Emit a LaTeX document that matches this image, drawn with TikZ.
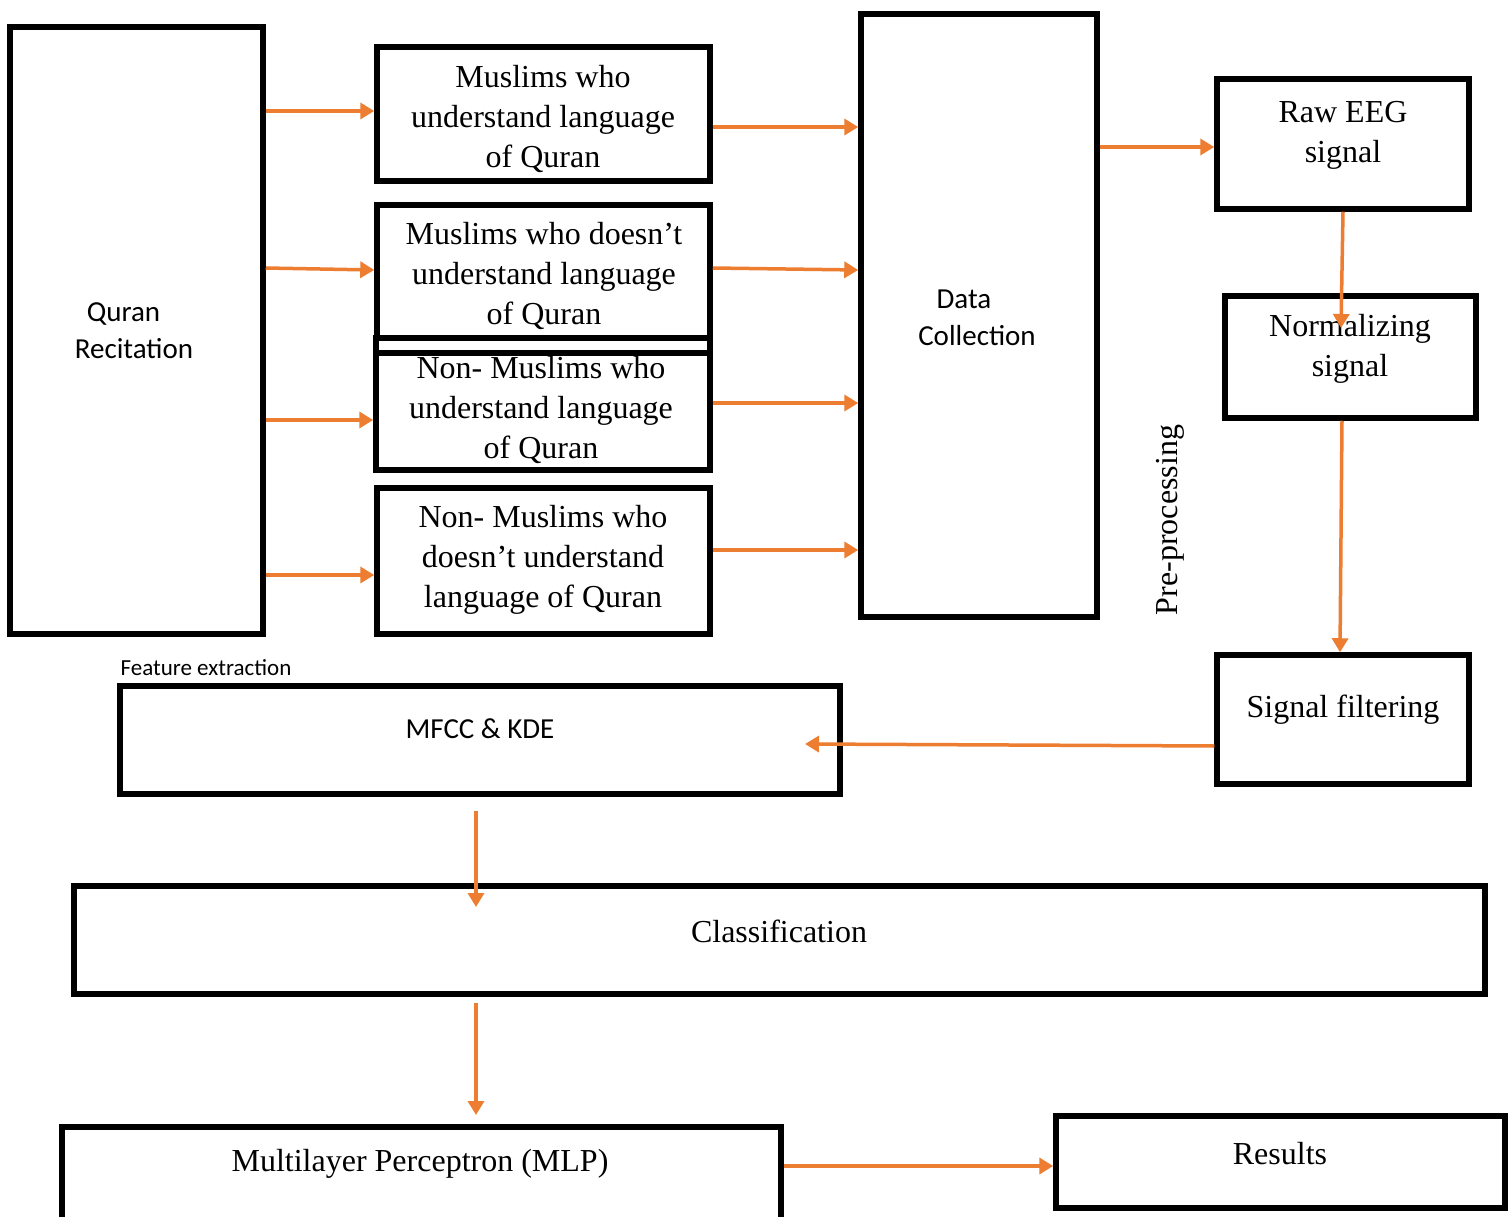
\documentclass[tikz,border=0pt]{standalone}
\usepackage{fontspec}
\setmainfont{Liberation Serif}
\newfontfamily\sansf{Carlito}
\usetikzlibrary{arrows.meta}
\definecolor{arr}{HTML}{ED7D31}
\tikzset{
  box/.style={draw=black, line width=5.5pt, rectangle, inner sep=0pt},
  ser/.style={font=\fontsize{32}{40}\selectfont, align=center, inner sep=0pt},
  sans/.style={font=\sansf\fontsize{29}{37}\selectfont, align=center, inner sep=0pt},
  con/.style={draw=arr, line width=3.5pt, -{Triangle[length=14pt,width=16pt]}}
}
\begin{document}
\begin{tikzpicture}[x=1pt,y=-1pt]
\clip (0,0) rectangle (1508,1217);
\fill[white] (0,0) rectangle (1508,1217);
% boxes
\node[box, minimum width=253pt, minimum height=607pt] (Q) at (136.5,330.5) {};
\node[box, minimum width=333pt, minimum height=134pt] (A) at (543.5,114) {};
\node[box, minimum width=333pt, minimum height=133pt] (B) at (543.5,271.5) {};
\node[box, minimum width=334pt, minimum height=132pt] (C) at (543,404) {};
\draw[line width=5.5pt] (374,353) -- (712,353);
\node[box, minimum width=333pt, minimum height=146pt] (D) at (543.5,561) {};
\node[box, minimum width=236pt, minimum height=603pt] (DC) at (979,315.5) {};
\node[box, minimum width=252pt, minimum height=130pt] (raw) at (1343,144) {};
\node[box, minimum width=251pt, minimum height=122pt] (norm) at (1350.5,357) {};
\node[box, minimum width=252pt, minimum height=129pt] (filt) at (1343,719.5) {};
\node[box, minimum width=720pt, minimum height=108pt] (mfcc) at (480,740) {};
\node[box, minimum width=1411pt, minimum height=108pt] (cls) at (779.5,940) {};
\node[box, minimum width=719pt, minimum height=140pt] (mlp) at (421.5,1197) {};
\node[box, minimum width=449pt, minimum height=92pt] (res) at (1280.5,1162) {};
% texts
\node[sans] (tQ) at (134,331) {Quran\hspace*{21pt}\\Recitation};
\node[ser] (tA) at (543,119) {Muslims who\\understand language\\of Quran};
\node[ser] (tB) at (544,276) {Muslims who doesn’t\\understand language\\of Quran};
\node[ser] (tC) at (541,410) {Non- Muslims who\\understand language\\of Quran};
\node[ser] (tD) at (543,560) {Non- Muslims who\\doesn’t understand\\language of Quran};
\node[sans] (tDC) at (977,318) {Data\hspace*{26pt}\\Collection};
\node[ser] (traw) at (1343,135) {Raw EEG\\signal};
\node[ser] (tnorm) at (1350,349) {Normalizing\\signal};
\node[ser] (tfilt) at (1343,710) {Signal filtering};
\node[ser, rotate=90] (tpre) at (1170,520) {Pre-processing};
\node[sans, font=\sansf\fontsize{23}{28}\selectfont] (tfe) at (206,668) {Feature extraction};
\node[sans] (tmfcc) at (480,729) {MFCC \& KDE};
\node[ser] (tcls) at (779,931) {Classification};
\node[ser] (tmlp) at (420,1164) {Multilayer Perceptron (MLP)};
\node[ser] (tres) at (1280,1154) {Results};
% free ends
\coordinate (nt) at (1341,328);
\coordinate (mt) at (805,744);
\coordinate (m1) at (476,811);
\coordinate (c1) at (476,907);
\coordinate (c2) at (476,1003);
\coordinate (l1) at (476,1115);
% connectors
\draw[con] (Q.east |- 0,111) -- (A.west |- 0,111);
\draw[con] (Q.east |- 0,268) -- (B.west |- 0,270);
\draw[con] (Q.east |- 0,420) -- (C.west |- 0,420);
\draw[con] (Q.east |- 0,575) -- (D.west |- 0,575);
\draw[con] (A.east |- 0,127) -- (DC.west |- 0,127);
\draw[con] (B.east |- 0,268) -- (DC.west |- 0,270);
\draw[con] (C.east |- 0,403) -- (DC.west |- 0,403);
\draw[con] (D.east |- 0,550) -- (DC.west |- 0,550);
\draw[con] (DC.east |- 0,147) -- (raw.west |- 0,147);
\draw[con] (raw.south) -- (nt);
\draw[con] (norm.south -| 1342,0) -- (filt.north -| 1340,0);
\draw[con] (filt.west |- 0,746) -- (mt);
\draw[con] (m1) -- (c1);
\draw[con] (c2) -- (l1);
\draw[con] (mlp.east |- 0,1166) -- (res.west |- 0,1166);
\end{tikzpicture}
\end{document}
